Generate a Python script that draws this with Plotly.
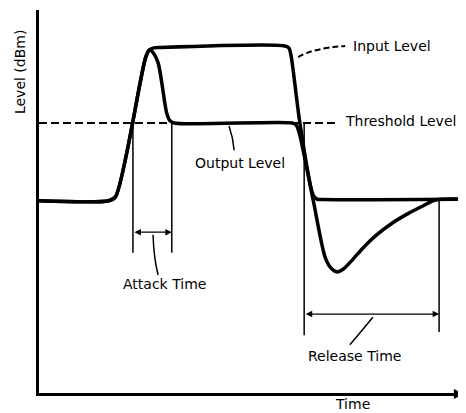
import plotly.graph_objects as go

# ---- data (time in arbitrary units 0..100, level in arbitrary units 0..100) ----
input_time = [0, 16.3, 17.9, 25.0, 25.9, 26.9, 28.5, 57.6, 58.5, 59.0, 61.1, 64.2, 65.1, 66.3, 100]
input_level = [50.2, 50.2, 51.2, 87.7, 89.6, 90.1, 90.2, 90.6, 90.1, 88.3, 70.5, 51.7, 50.6, 50.5, 50.6]

output_time = [0, 16.3, 17.9, 25.0, 25.9, 26.7, 27.9, 29.9, 30.6, 31.6, 59.3, 60.2, 60.9,
               64.2, 67.0, 68.4, 69.8, 71.2, 73.5, 76.0, 79.0, 82.5, 86.5, 90.0, 92.8, 100]
output_level = [50.2, 50.2, 51.2, 87.7, 89.6, 88.9, 86.2, 73.1, 71.2, 70.5, 70.5, 70.0, 68.1,
                50.4, 35.5, 32.6, 31.6, 32.3, 34.9, 38.0, 41.2, 44.2, 46.9, 48.9, 50.4, 50.6]

threshold_level = 70.5
attack_start, attack_end = 22.0, 31.1
release_start, release_end = 62.1, 93.7
release_end_level = 50.6

FONT = "DejaVu Sans"
fig = go.Figure()

fig.add_trace(go.Scatter(x=input_time, y=input_level, mode="lines",
                         line=dict(color="black", width=3.5, shape="spline", smoothing=0.8),
                         hoverinfo="skip", showlegend=False))
fig.add_trace(go.Scatter(x=output_time, y=output_level, mode="lines",
                         line=dict(color="black", width=3.5, shape="spline", smoothing=0.8),
                         hoverinfo="skip", showlegend=False))

shapes = []
# threshold dashed line
shapes.append(dict(type="line", xref="x", yref="y", x0=0, x1=70.0, y0=threshold_level, y1=threshold_level,
                   line=dict(color="black", width=2, dash="8px,4px")))
# attack time markers
for t in (attack_start, attack_end):
    shapes.append(dict(type="line", xref="x", yref="y", x0=t, x1=t, y0=threshold_level, y1=36.6,
                       line=dict(color="black", width=1.5)))
# release time markers
shapes.append(dict(type="line", xref="x", yref="y", x0=release_start, x1=release_start,
                   y0=threshold_level, y1=15.1, line=dict(color="black", width=1.5)))
shapes.append(dict(type="line", xref="x", yref="y", x0=release_end, x1=release_end,
                   y0=release_end_level, y1=15.9, line=dict(color="black", width=1.5)))
# leaders
shapes.append(dict(type="path", xref="x", yref="y", path="M 60.7,87.7 Q 64.0,90.0 71.7,90.6",
                   line=dict(color="black", width=2, dash="6px,3px")))
shapes.append(dict(type="path", xref="x", yref="y", path="M 44.5,69.7 Q 45.5,66.5 45.7,63.4",
                   line=dict(color="black", width=1.5)))
shapes.append(dict(type="path", xref="x", yref="y", path="M 26.7,41.3 Q 26.9,35.0 27.9,30.8",
                   line=dict(color="black", width=1.5)))
shapes.append(dict(type="path", xref="x", yref="y", path="M 78.2,19.8 Q 75.0,15.5 72.8,12.6",
                   line=dict(color="black", width=1.5)))

fnt = dict(family=FONT, size=14, color="black")
ann = []
ann.append(dict(x=73.1, y=90.6, xref="x", yref="y", text="Input Level", showarrow=False,
                xanchor="left", yanchor="middle", font=fnt))
ann.append(dict(x=71.2, y=71.0, xref="x", yref="y", text="Threshold Level", showarrow=False,
                xanchor="left", yanchor="middle", font=fnt))
ann.append(dict(x=47.1, y=60.1, xref="x", yref="y", text="Output Level", showarrow=False,
                xanchor="center", yanchor="middle", font=fnt))
ann.append(dict(x=29.5, y=28.5, xref="x", yref="y", text="Attack Time", showarrow=False,
                xanchor="center", yanchor="middle", font=fnt))
ann.append(dict(x=74.0, y=9.7, xref="x", yref="y", text="Release Time", showarrow=False,
                xanchor="center", yanchor="middle", font=fnt))
ann.append(dict(x=73.5, y=0, xref="x", yref="paper", text="Time", showarrow=False,
                xanchor="center", yanchor="middle", yshift=-11, font=fnt))
ann.append(dict(x=0, y=83.8, xref="paper", yref="y", text="Level (dBm)", showarrow=False,
                textangle=-90, xanchor="center", yanchor="middle", xshift=-19, font=fnt))
# double arrows
ann.append(dict(x=attack_end, y=42.0, ax=attack_start, ay=42.0, xref="x", yref="y", axref="x", ayref="y",
                text="", showarrow=True, arrowhead=2, arrowside="end+start", arrowsize=1,
                arrowwidth=1.3, arrowcolor="black"))
ann.append(dict(x=release_end, y=20.6, ax=release_start, ay=20.6, xref="x", yref="y", axref="x", ayref="y",
                text="", showarrow=True, arrowhead=2, arrowside="end+start", arrowsize=1,
                arrowwidth=1.3, arrowcolor="black"))
# x axis arrow
ann.append(dict(x=99.5, y=0, xref="x", yref="paper", ax=-24, ay=0, yshift=-1,
                text="", showarrow=True, arrowhead=2, arrowsize=1, arrowwidth=2, arrowcolor="black"))

# the page body has an 8px default margin, so the figure is sized/offset to compensate
fig.update_layout(
    width=458, height=405,
    margin=dict(l=31, r=0, t=2, b=20),
    paper_bgcolor="white", plot_bgcolor="white",
    shapes=shapes, annotations=ann,
    xaxis=dict(range=[0, 100], showgrid=False, zeroline=False, showticklabels=False, ticks="",
               showline=True, linecolor="black", linewidth=2.5, fixedrange=True),
    yaxis=dict(range=[0, 100], showgrid=False, zeroline=False, showticklabels=False, ticks="",
               showline=True, linecolor="black", linewidth=2.5, fixedrange=True),
)

fig.write_html("out.html")
